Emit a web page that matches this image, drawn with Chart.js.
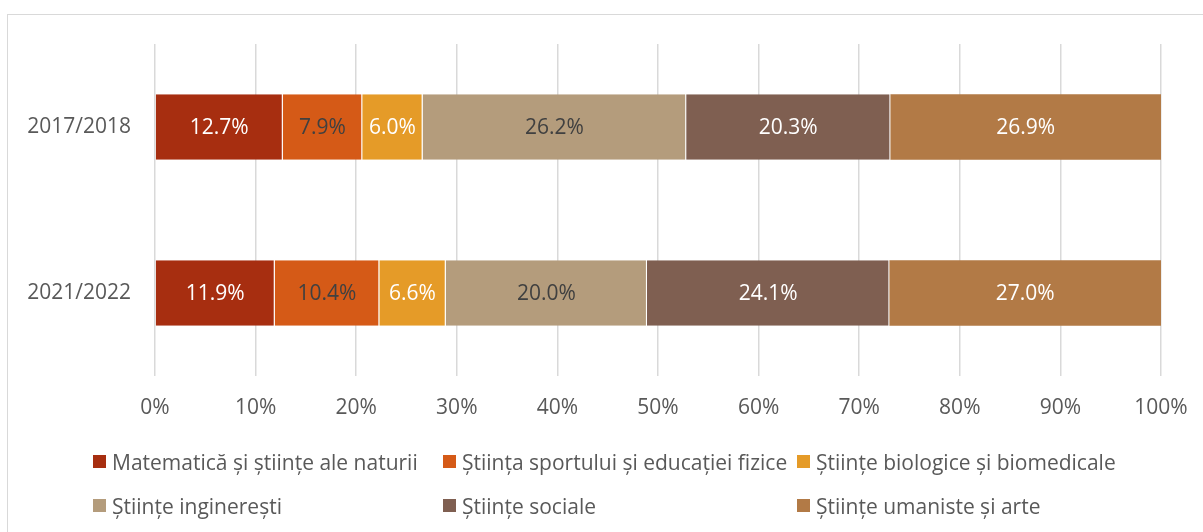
<!DOCTYPE html>
<html>
<head>
<meta charset="utf-8">
<script src="https://cdn.jsdelivr.net/npm/chart.js@4"></script>
<style>
  html, body { margin: 0; padding: 0; background: #fff; }
  #wrap { position: relative; width: 1203px; height: 532px; overflow: hidden; }
  #frame { position: absolute; left: 7px; top: 14px; width: 1220px; height: 540px;
           border: 1.5px solid #d9d9d9; box-sizing: border-box; }
  #chart { position: absolute; left: 0; top: 0; }
  #legend { position: absolute; left: 93px; top: 447px; display: grid;
            grid-template-columns: 350px 354px 354px; row-gap: 15px;
            font-family: "Open Sans", sans-serif; font-size: 21px; color: #595959; }
  #legend div { display: flex; align-items: center; height: 29px; white-space: nowrap; }
  #legend span.box { display: inline-block; width: 13px; height: 13px; margin-right: 6px; }
</style>
</head>
<body>
<div id="wrap">
  <div id="frame"></div>
  <canvas id="chart" width="1203" height="532"></canvas>
  <div id="legend"></div>
</div>
<script>
/* 100% stacked horizontal bar: share of students per field, two academic years. */
var years = ["2017/2018", "2021/2022"];
var fields = [
  "Matematică și științe ale naturii",
  "Știința sportului și educației fizice",
  "Științe biologice și biomedicale",
  "Științe inginerești",
  "Științe sociale",
  "Științe umaniste și arte"
];
var mathSci = [12.7, 11.9];
var sport = [7.9, 10.4];
var bio = [6.0, 6.6];
var eng = [26.2, 20.0];
var social = [20.3, 24.1];
var human = [26.9, 27.0];
var xTicks = [0, 10, 20, 30, 40, 50, 60, 70, 80, 90, 100];

(function () {
  "use strict";
  var font = "'Open Sans', sans-serif";
  var grey = "#595959";
  var colors = ["#a72e10", "#d55a17", "#e59b28", "#b49c7c", "#7f5f51", "#b27a46"];
  var labelColors = ["#ffffff", "#404040", "#ffffff", "#404040", "#ffffff", "#ffffff"];
  var series = [mathSci, sport, bio, eng, social, human];

  var datasets = series.map(function (vals, i) {
    return {
      label: fields[i],
      data: vals,
      backgroundColor: colors[i],
      borderColor: "rgba(255,255,255,0.7)",
      borderWidth: { left: 0, right: i < series.length - 1 ? 1 : 0, top: 0, bottom: 0 },
      borderSkipped: false,
      barPercentage: 0.395,
      categoryPercentage: 1,
    };
  });

  // values written inside each segment
  var segmentLabels = {
    id: "segmentLabels",
    afterDatasetsDraw: function (chart) {
      var ctx = chart.ctx;
      ctx.save();
      ctx.font = "21px " + font;
      ctx.textAlign = "center";
      ctx.textBaseline = "middle";
      chart.data.datasets.forEach(function (ds, i) {
        chart.getDatasetMeta(i).data.forEach(function (bar, j) {
          var p = bar.getCenterPoint();
          ctx.fillStyle = labelColors[i];
          ctx.fillText(ds.data[j].toFixed(1) + "%", p.x, p.y + 1);
        });
      });
      ctx.restore();
    },
  };

  new Chart(document.getElementById("chart"), {
    type: "bar",
    data: { labels: years, datasets: datasets },
    plugins: [segmentLabels],
    options: {
      indexAxis: "y",
      responsive: false,
      animation: false,
      layout: { padding: { top: 44, right: 42, left: 0, bottom: 0 } },
      scales: {
        x: {
          stacked: true,
          min: 0,
          max: 100,
          afterBuildTicks: function (scale) {
            scale.ticks = xTicks.map(function (v) { return { value: v }; });
          },
          afterFit: function (scale) {
            scale.height = 156;
            scale.paddingLeft = 0;
            scale.paddingRight = 0;
          },
          border: { display: false },
          grid: { color: "#d9d9d9", lineWidth: 1.5, drawTicks: false },
          ticks: {
            padding: 19,
            color: grey,
            font: { family: font, size: 21 },
            callback: function (v) { return v + "%"; },
          },
        },
        y: {
          stacked: true,
          afterFit: function (scale) { scale.width = 155; },
          border: { display: false },
          grid: { display: false, drawTicks: false },
          ticks: { padding: 24, color: grey, font: { family: font, size: 21 } },
        },
      },
      plugins: { legend: { display: false }, tooltip: { enabled: false } },
    },
  });

  var legend = document.getElementById("legend");
  fields.forEach(function (name, i) {
    var item = document.createElement("div");
    var box = document.createElement("span");
    box.className = "box";
    box.style.background = colors[i];
    item.appendChild(box);
    item.appendChild(document.createTextNode(name));
    legend.appendChild(item);
  });
})();
</script>
</body>
</html>
